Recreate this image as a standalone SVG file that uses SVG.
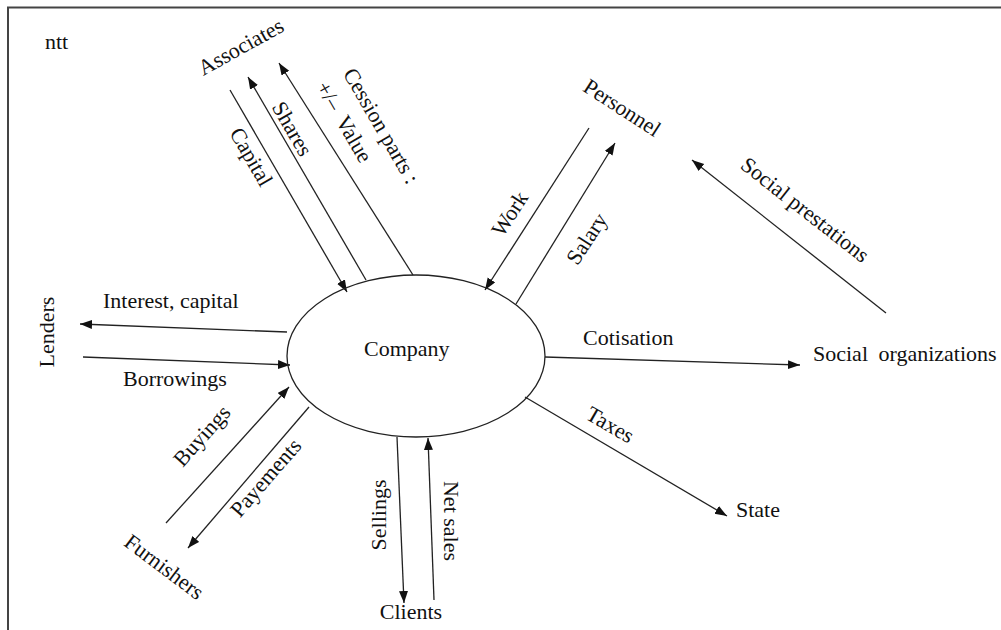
<svg xmlns="http://www.w3.org/2000/svg" width="1001" height="630" viewBox="0 0 1001 630">
<style>
text{font-family:"Liberation Serif","Times New Roman",serif;font-size:22px;fill:#111}
.c{stroke:#222;stroke-width:1.3;fill:none}
.a{marker-end:url(#ah)}
</style>
<defs>
<marker id="ah" markerUnits="userSpaceOnUse" markerWidth="13" markerHeight="10" refX="12" refY="4.5" orient="auto">
<path d="M0,0 L12,4.5 L0,9 z" fill="#111"/>
</marker>
</defs>
<rect x="0" y="0" width="1001" height="630" fill="#fff"/>
<path d="M8,630 V7.5 H1001" fill="none" stroke="#444" stroke-width="2"/>
<text x="45" y="49">ntt</text>

<g id="connectors">
<line class="c a" x1="230" y1="90" x2="347" y2="292"/>
<line class="c a" x1="366" y1="280" x2="248" y2="77"/>
<line class="c a" x1="413" y1="275" x2="279" y2="63"/>
<line class="c a" x1="589" y1="128" x2="485" y2="290"/>
<line class="c a" x1="516" y1="304" x2="615" y2="143"/>
<line class="c a" x1="886" y1="313" x2="692" y2="160"/>
<line class="c a" x1="287" y1="332" x2="80" y2="324"/>
<line class="c a" x1="83" y1="357" x2="290" y2="365"/>
<line class="c a" x1="166" y1="523" x2="289" y2="387"/>
<line class="c a" x1="309" y1="407" x2="188" y2="548"/>
<line class="c a" x1="397" y1="437" x2="404" y2="603"/>
<line class="c a" x1="434" y1="600" x2="428" y2="438"/>
<line class="c a" x1="545" y1="357" x2="800" y2="365"/>
<line class="c a" x1="525" y1="397" x2="727" y2="516"/>
<g id="labels">
<text text-anchor="middle" transform="translate(251,157) rotate(60)" y="7">Capital</text>
<text text-anchor="middle" transform="translate(292,129) rotate(60)" y="7">Shares</text>
<text text-anchor="middle" transform="translate(381,126) rotate(60)" y="7">Cession parts :</text>
<text text-anchor="middle" transform="translate(344,122) rotate(60)" y="7">+/–<tspan dx="10">Value</tspan></text>
<text text-anchor="middle" transform="translate(510,214) rotate(-57)" y="7">Work</text>
<text text-anchor="middle" transform="translate(587,239) rotate(-57)" y="7">Salary</text>
<text text-anchor="middle" transform="translate(805,210) rotate(38)" y="7">Social prestations</text>
<text x="103" y="308">Interest, capital</text>
<text x="123" y="386">Borrowings</text>
<text text-anchor="middle" transform="translate(202,436) rotate(-48)" y="7">Buyings</text>
<text text-anchor="middle" transform="translate(266,478) rotate(-49)" y="7">Payements</text>
<text text-anchor="middle" transform="translate(379,515) rotate(-90)" y="7">Sellings</text>
<text text-anchor="middle" transform="translate(451,521) rotate(90)" y="7">Net sales</text>
<text x="583" y="345">Cotisation</text>
<text text-anchor="middle" transform="translate(610,425) rotate(30)" y="7">Taxes</text>
</g>
</g>

<g id="company">
<ellipse cx="416" cy="356" rx="129" ry="81" fill="none" stroke="#222" stroke-width="1.3"/>
<text x="364" y="356">Company</text>
</g>
<g id="associates"><text text-anchor="middle" transform="translate(241,47) rotate(-29)" y="7">Associates</text></g>
<g id="personnel"><text text-anchor="middle" transform="translate(622,108) rotate(33)" y="7">Personnel</text></g>
<g id="lenders"><text text-anchor="middle" transform="translate(47,332) rotate(-90)" y="7">Lenders</text></g>
<g id="furnishers"><text text-anchor="middle" transform="translate(164,567) rotate(37)" y="7">Furnishers</text></g>
<g id="clients"><text text-anchor="middle" x="411" y="619">Clients</text></g>
<g id="social-organizations"><text x="813" y="361" word-spacing="5">Social organizations</text></g>
<g id="state"><text x="736" y="517">State</text></g>
</svg>
